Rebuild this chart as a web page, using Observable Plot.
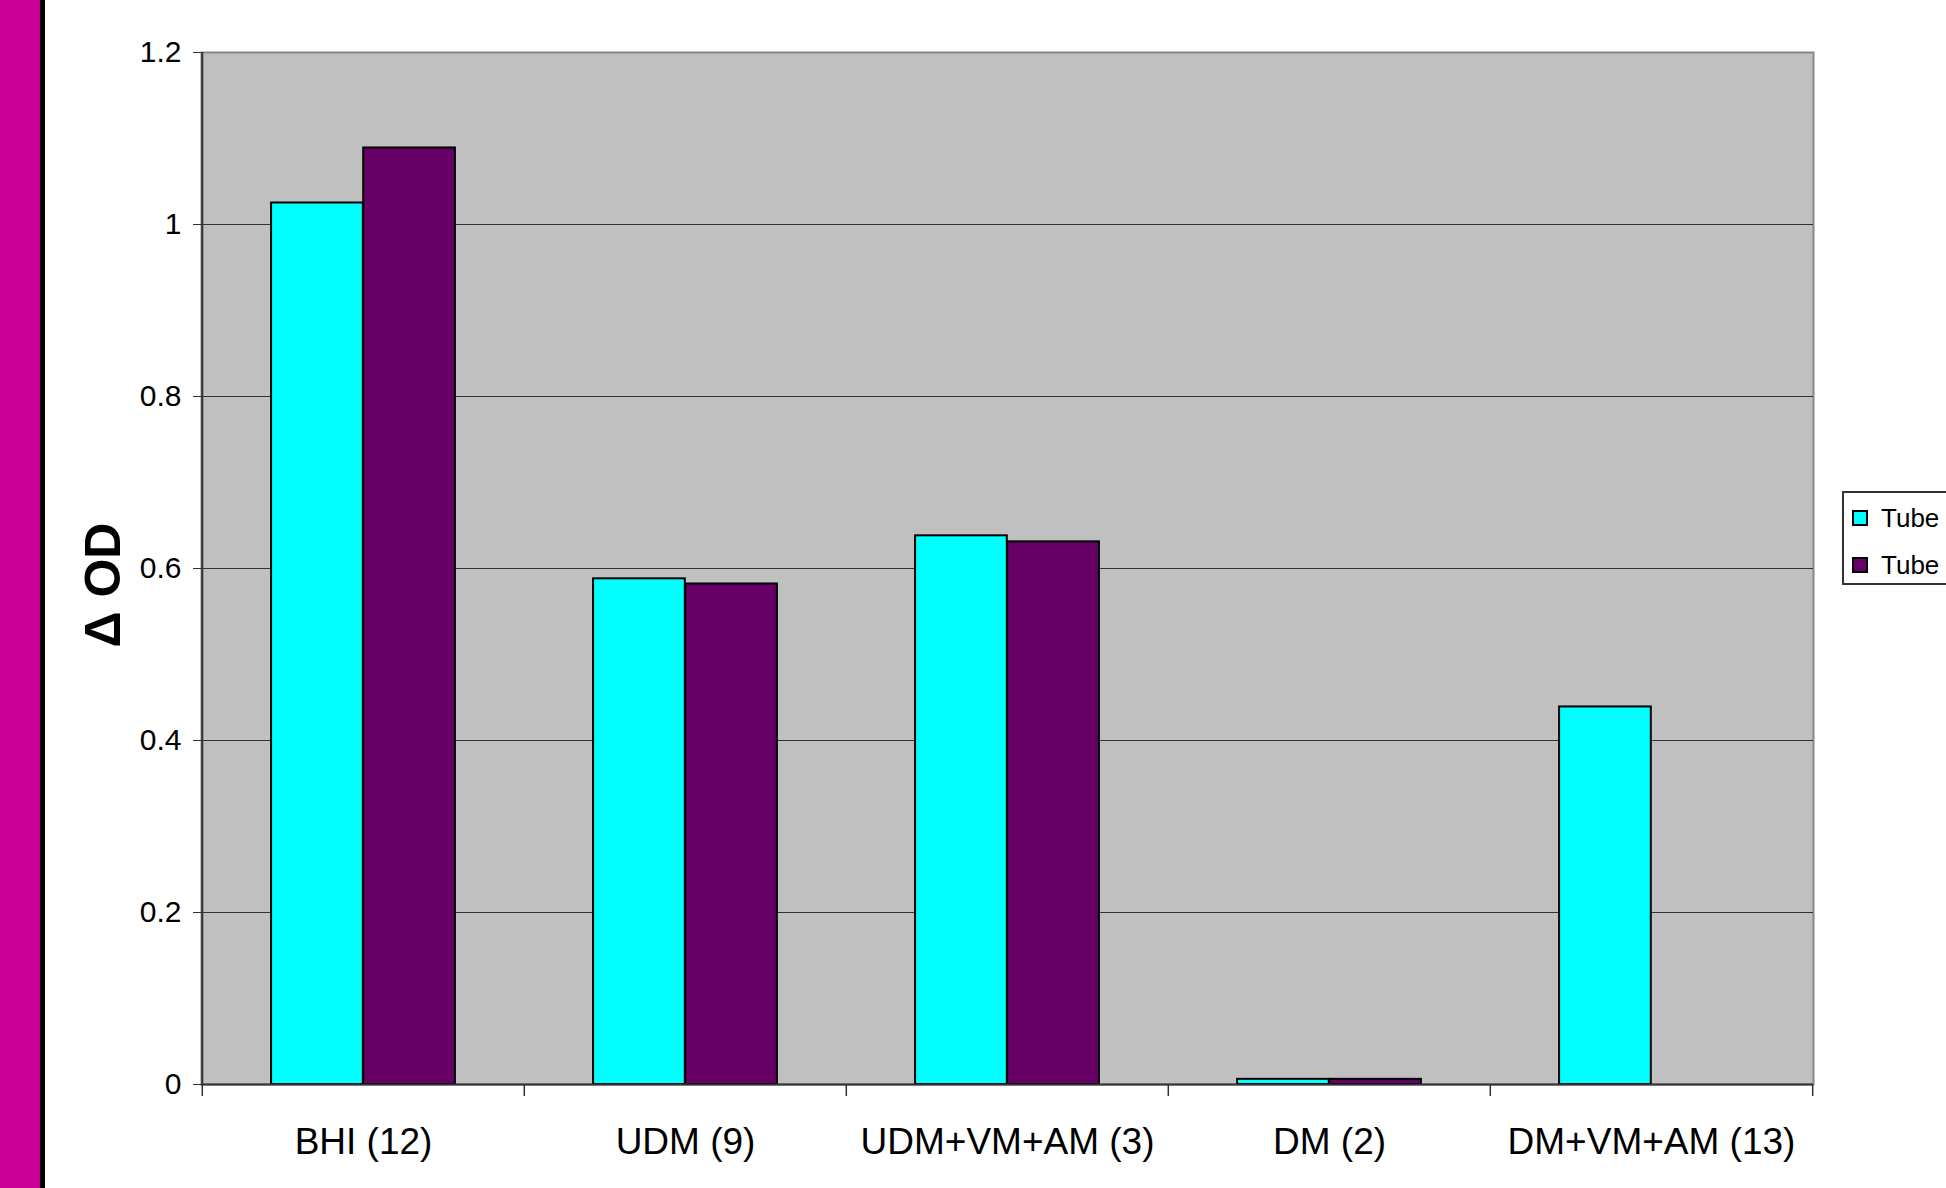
<!DOCTYPE html>
<html>
<head>
<meta charset="utf-8">
<script src="https://cdn.jsdelivr.net/npm/d3@7"></script>
<script src="https://cdn.jsdelivr.net/npm/@observablehq/plot@0.6"></script>
<style>
  html, body { margin: 0; padding: 0; background: #fff; overflow: hidden; }
  #page { position: relative; width: 1946px; height: 1188px; overflow: hidden; font-family: "Liberation Sans", Arial, sans-serif; }
  #strip { position: absolute; left: 0; top: 0; width: 40px; height: 1188px; background: #cc0099; border-right: 5px solid #000; }
  #chart { position: absolute; left: 0; top: 0; }
  #legend { position: absolute; left: 1842px; top: 491px; width: 140px; height: 90px; border: 2px solid #333; background: #fff; }
  .item { position: absolute; left: 8px; height: 26px; display: flex; align-items: center; font-size: 26px; color: #000; }
  .sw { width: 12px; height: 12px; border: 2px solid #000; margin-right: 13px; }
</style>
</head>
<body>
<div id="page">
  <div id="strip"></div>
  <div id="chart"></div>
  <div id="legend"></div>
</div>
<script>
// Growth (Δ OD) per medium, two tubes per medium
const categories = ["BHI (12)", "UDM (9)", "UDM+VM+AM (3)", "DM (2)", "DM+VM+AM (13)"];
const tube1 = [1.025, 0.588, 0.638, 0.006, 0.439];
const tube2 = [1.089, 0.582, 0.631, 0.006, null];
const seriesLabels = ["Tube", "Tube"];
const seriesColors = ["#00ffff", "#660066"];
const yTicks = [0, 0.2, 0.4, 0.6, 0.8, 1, 1.2];

const W = 1946, H = 1188;
const margin = {left: 201, right: 133, top: 52, bottom: 104};
const bw = (W - margin.left - margin.right) / categories.length;
const unit = bw / 3.5; // two bars plus a 150% gap per category

const rows1 = categories.map((c, i) => ({category: c, value: tube1[i]})).filter(d => d.value != null);
const rows2 = categories.map((c, i) => ({category: c, value: tube2[i]})).filter(d => d.value != null);

const svg = Plot.plot({
  width: W,
  height: H,
  marginLeft: margin.left,
  marginRight: margin.right,
  marginTop: margin.top,
  marginBottom: margin.bottom,
  style: {fontFamily: "'Liberation Sans', Arial, sans-serif", color: "#000", background: "transparent", overflow: "visible"},
  x: {type: "band", domain: categories, padding: 0},
  y: {domain: [0, 1.2]},
  marks: [
    Plot.frame({fill: "#c0c0c0", stroke: "#888", strokeWidth: 2}),
    Plot.ruleY(yTicks.filter(d => d > 0 && d < 1.2), {stroke: "#333", strokeWidth: 1}),
    Plot.barY(rows1, {x: "category", y: "value", fill: seriesColors[0], stroke: "#000", strokeWidth: 2,
      insetLeft: 0.75 * unit, insetRight: 1.75 * unit}),
    Plot.barY(rows2, {x: "category", y: "value", fill: seriesColors[1], stroke: "#000", strokeWidth: 2,
      insetLeft: 1.75 * unit, insetRight: 0.75 * unit}),
    // axis lines
    Plot.ruleX([categories[0]], {dx: -bw / 2, stroke: "#333", strokeWidth: 2}),
    Plot.ruleY([0], {stroke: "#333", strokeWidth: 2}),
    // category boundary ticks below the baseline
    Plot.ruleX(categories, {x: d => d, y1: 0, y2: 0, dx: -bw / 2, insetBottom: -12, stroke: "#333", strokeWidth: 1.5}),
    Plot.ruleX([categories[categories.length - 1]], {y1: 0, y2: 0, dx: bw / 2, insetBottom: -12, stroke: "#333", strokeWidth: 1.5}),
    Plot.axisY({ticks: yTicks, tickSize: 8, tickPadding: 12, fontSize: 30, tickFormat: d => String(d), label: null, stroke: "#333"}),
    Plot.axisX({tickSize: 0, tickPadding: 43, fontSize: 37, label: null})
  ]
});

d3.select(svg).append("text")
  .attr("transform", "translate(120,585) rotate(-90)")
  .attr("text-anchor", "middle")
  .attr("font-size", 50)
  .attr("font-weight", "bold")
  .attr("fill", "#000")
  .text("Δ OD");

document.getElementById("chart").appendChild(svg);

const legend = document.getElementById("legend");
seriesLabels.forEach((label, i) => {
  const item = document.createElement("div");
  item.className = "item";
  item.style.top = (12 + i * 47) + "px";
  const sw = document.createElement("div");
  sw.className = "sw";
  sw.style.background = seriesColors[i];
  item.appendChild(sw);
  item.appendChild(document.createTextNode(label));
  legend.appendChild(item);
});
</script>
</body>
</html>
